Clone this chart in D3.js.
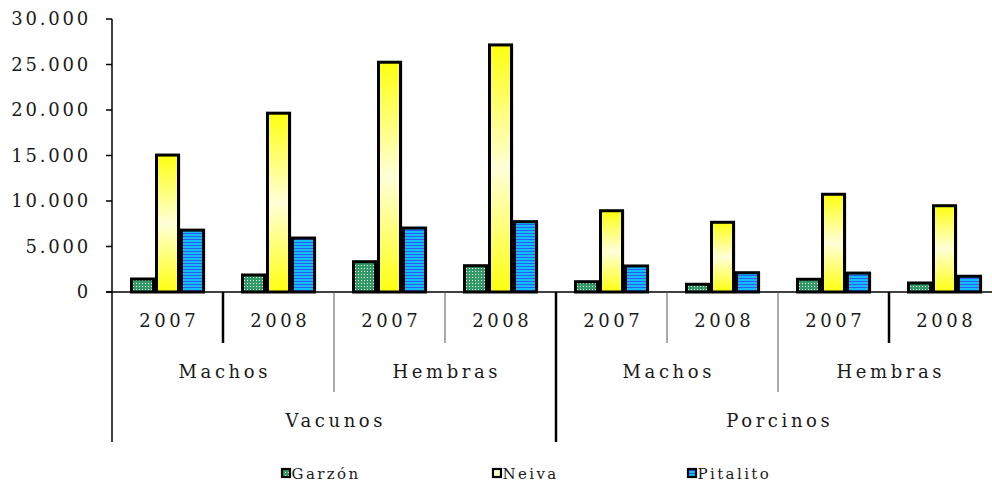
<!DOCTYPE html>
<html lang="es">
<head>
<meta charset="utf-8">
<title>Garzón, Neiva, Pitalito</title>
<style>
  body { margin: 0; background: #fff; }
  svg text { font-family: "DejaVu Serif", "Liberation Serif", serif; fill: #1a1a1a; }
</style>
</head>
<body>
<script src="https://d3js.org/d3.v7.min.js"></script>
<script>
// datos
const especies = ["Vacunos", "Porcinos"];
const sexos = ["Machos", "Hembras"];
const anios = ["2007", "2008"];
const series = ["Garzón", "Neiva", "Pitalito"];
// orden: Vacunos M07, M08, H07, H08, Porcinos M07, M08, H07, H08
const garzon   = [1430, 1870, 3330, 2890, 1130,  850, 1400,  990];
const neiva    = [15050, 19650, 25250, 27150, 8930, 7660, 10740, 9480];
const pitalito = [6800, 5930, 7030, 7730, 2860, 2120, 2080, 1730];
const yTicks = [0, 5000, 10000, 15000, 20000, 25000, 30000];

const valores = [garzon, neiva, pitalito];
const grupos = [];
especies.forEach(e => sexos.forEach(s => anios.forEach(a => grupos.push({ e, s, a, key: e + s + a }))));

const width = 992, height = 484;
const mLeft = 112, mRight = 1000, yTop = 19, base = 292;

const svg = d3.select("body").append("svg")
    .attr("width", width)
    .attr("height", height);

const defs = svg.append("defs");
// patrón de puntos verdes
const pg = defs.append("pattern").attr("id", "pGarzon")
    .attr("width", 3).attr("height", 3).attr("patternUnits", "userSpaceOnUse");
pg.append("rect").attr("width", 3).attr("height", 3).attr("fill", "#339966");
pg.append("rect").attr("x", 1).attr("y", 1).attr("width", 1).attr("height", 1).attr("fill", "#e8f5ee");
// rayas azules
const pp = defs.append("pattern").attr("id", "pPitalito")
    .attr("width", 4).attr("height", 3).attr("patternUnits", "userSpaceOnUse");
pp.append("rect").attr("width", 4).attr("height", 3).attr("fill", "#12bdfc");
pp.append("rect").attr("y", 2).attr("width", 4).attr("height", 1).attr("fill", "#2a5cf5");
// degradado amarillo
const lg = defs.append("linearGradient").attr("id", "gNeiva")
    .attr("x1", 0).attr("y1", 0).attr("x2", 0).attr("y2", 1);
lg.append("stop").attr("offset", "0%").attr("stop-color", "#ffff10");
lg.append("stop").attr("offset", "50%").attr("stop-color", "#ffffd8");
lg.append("stop").attr("offset", "100%").attr("stop-color", "#ffff10");

const fills = ["url(#pGarzon)", "url(#gNeiva)", "url(#pPitalito)"];

const x0 = d3.scaleBand().domain(grupos.map(g => g.key)).range([mLeft, mRight]);
const x1 = d3.scaleBand().domain(series).range([18, 93]);
const y = d3.scaleLinear().domain([0, 30000]).range([base, yTop]);

// eje Y
const yAxis = svg.append("g");
yAxis.append("line").attr("x1", mLeft).attr("x2", mLeft).attr("y1", yTop).attr("y2", 442)
    .attr("stroke", "#000").attr("stroke-width", 1.5);
yAxis.selectAll("line.tick").data(yTicks).join("line").attr("class", "tick")
    .attr("x1", mLeft - 6).attr("x2", mLeft)
    .attr("y1", d => y(d)).attr("y2", d => y(d))
    .attr("stroke", "#000").attr("stroke-width", 1.5);
yAxis.selectAll("text").data(yTicks).join("text")
    .attr("x", 91).attr("y", d => y(d)).attr("dy", "0.36em")
    .attr("text-anchor", "end")
    .style("font-size", "18px").style("letter-spacing", "2.8px")
    .text(d => d3.format(",")(d).replace(/,/g, "."));

// barras
const g = svg.append("g");
grupos.forEach((grp, i) => {
    series.forEach((s, j) => {
        const v = valores[j][i];
        const bx = x0(grp.key) + x1(s) + 1.5;
        const bw = x1.bandwidth() - 3;
        g.append("rect")
            .attr("x", bx + 2).attr("y", y(v) - 1)
            .attr("width", bw).attr("height", base - y(v) + 1)
            .attr("fill", "#999").attr("opacity", 0.5);
        g.append("rect")
            .attr("x", bx).attr("y", y(v))
            .attr("width", bw).attr("height", base - y(v))
            .attr("fill", fills[j])
            .attr("stroke", "#000").attr("stroke-width", 3);
    });
});

// línea base
svg.append("line").attr("x1", mLeft - 6).attr("x2", width).attr("y1", base).attr("y2", base)
    .attr("stroke", "#000").attr("stroke-width", 1.5);

// separadores de categorías
const sep = [];
for (let i = 1; i < grupos.length; i++) {
    let len = 343, w = 1, c = "#555";
    if (i % 4 === 0) { len = 442; w = 2.5; c = "#000"; }
    else if (i % 2 === 0) { len = 392; }
    if (i === 1 || i === 7) { w = 2.5; c = "#000"; }
    sep.push({ x: x0(grupos[i].key), len, w, c });
}
svg.selectAll("line.sep").data(sep).join("line").attr("class", "sep")
    .attr("x1", d => d.x).attr("x2", d => d.x)
    .attr("y1", base).attr("y2", d => d.len)
    .attr("stroke", d => d.c).attr("stroke-width", d => d.w);

// etiquetas de categorías
const lab = { "font-size": "18px", "letter-spacing": "3.6px" };
svg.selectAll("text.anio").data(grupos).join("text").attr("class", "anio")
    .attr("x", d => x0(d.key) + x0.bandwidth() / 2 + 1.8).attr("y", 327)
    .attr("text-anchor", "middle")
    .style("font-size", lab["font-size"]).style("letter-spacing", lab["letter-spacing"])
    .text(d => d.a);

const sub = [];
especies.forEach(e => sexos.forEach(s => sub.push({ e, s })));
svg.selectAll("text.sexo").data(sub).join("text").attr("class", "sexo")
    .attr("x", (d, i) => x0(grupos[i * 2].key) + x0.bandwidth() + 1.8).attr("y", 378)
    .attr("text-anchor", "middle")
    .style("font-size", lab["font-size"]).style("letter-spacing", lab["letter-spacing"])
    .text(d => d.s);

svg.selectAll("text.esp").data(especies).join("text").attr("class", "esp")
    .attr("x", (d, i) => x0(grupos[i * 4].key) + 2 * x0.bandwidth() + 1.8).attr("y", 427)
    .attr("text-anchor", "middle")
    .style("font-size", lab["font-size"]).style("letter-spacing", lab["letter-spacing"])
    .text(d => d);

// leyenda
const legX = [281, 492, 687];
const leg = svg.selectAll("g.leg").data(series).join("g").attr("class", "leg")
    .attr("transform", (d, i) => `translate(${legX[i]},468)`);
leg.append("rect").attr("x", 1).attr("y", 1).attr("width", 8).attr("height", 8)
    .attr("fill", (d, i) => i === 1 ? "#ffffc0" : fills[i])
    .attr("stroke", "#000").attr("stroke-width", 2.2);
leg.append("text").attr("x", 10.5).attr("y", 10.5)
    .style("font-size", "15px").style("letter-spacing", "2.4px")
    .text(d => d);
</script>
</body>
</html>
